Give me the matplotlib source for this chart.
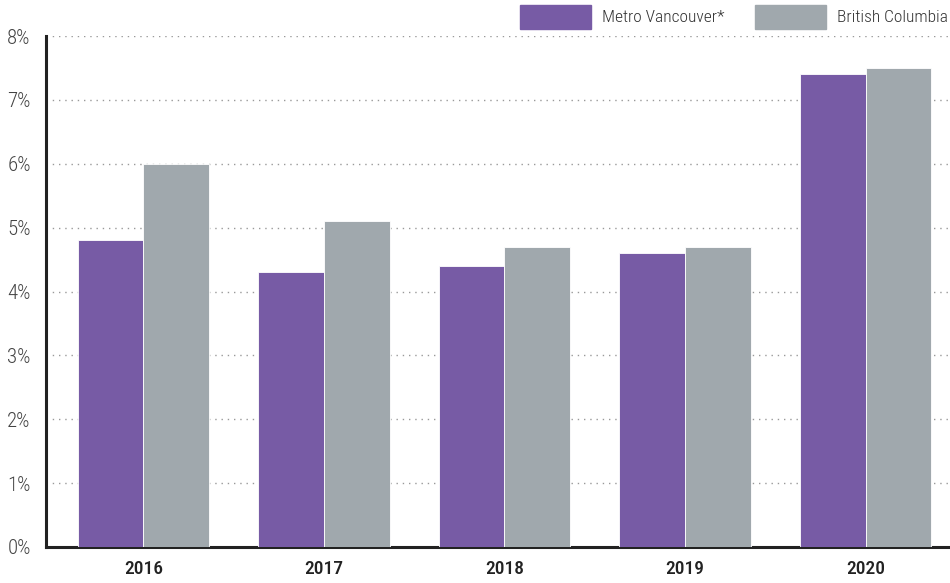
import matplotlib.pyplot as plt
from matplotlib.patches import Rectangle

# datos del gráfico
anios = ["2016", "2017", "2018", "2019", "2020"]
metro_vancouver = [4.8, 4.3, 4.4, 4.6, 7.4]
british_columbia = [6.0, 5.1, 4.7, 4.7, 7.5]
ticks_y = [0, 1, 2, 3, 4, 5, 6, 7, 8]

plt.rcParams["font.family"] = ["Roboto Condensed", "Roboto", "DejaVu Sans"]

morado = "#775ba5"
gris = "#a0a8ad"

fig = plt.figure(figsize=(9.5, 5.83), dpi=100)
ax = fig.add_axes([46 / 950, 1 - 547 / 583, (948 - 46) / 950, (547 - 36) / 583])

x = list(range(len(anios)))
ancho = 0.363
ax.bar([i - ancho / 2 for i in x], metro_vancouver, width=ancho, color=morado,
       edgecolor="white", linewidth=0.6, zorder=3)
ax.bar([i + ancho / 2 for i in x], british_columbia, width=ancho, color=gris,
       edgecolor="white", linewidth=0.6, zorder=3)

ax.set_xlim(-0.54, 4.457)
ax.set_ylim(0, 8)
ax.set_yticks(ticks_y)
ax.set_yticklabels([f"{t}%" for t in ticks_y], fontsize=15, color="#444444",
                   fontweight="light")
ax.set_xticks(x)
ax.set_xticklabels(anios, fontsize=14, color="#222222", fontweight="medium")
ax.tick_params(length=0, pad=11, axis="y")
ax.tick_params(length=0, pad=9, axis="x")

ax.grid(axis="y", linestyle=(0, (1, 3.5)), color="#999999", linewidth=1, zorder=0)
for lado in ["top", "right"]:
    ax.spines[lado].set_visible(False)
ax.spines["left"].set_linewidth(2.2)
ax.spines["bottom"].set_linewidth(2.2)
ax.spines["left"].set_color("#222222")
ax.spines["bottom"].set_color("#222222")

# leyenda manual arriba a la derecha
fig.patches.append(Rectangle((520 / 950, 1 - 29 / 583), 71 / 950, 24 / 583,
                             transform=fig.transFigure, color=morado))
fig.text(602 / 950, 1 - 17 / 583, "Metro Vancouver*", fontsize=12.5,
         va="center", color="#333333", fontweight="light")
fig.patches.append(Rectangle((755 / 950, 1 - 29 / 583), 71 / 950, 24 / 583,
                             transform=fig.transFigure, color=gris))
fig.text(837 / 950, 1 - 17 / 583, "British Columbia", fontsize=12.5,
         va="center", color="#333333", fontweight="light")

fig.savefig("out.png", dpi=100)
